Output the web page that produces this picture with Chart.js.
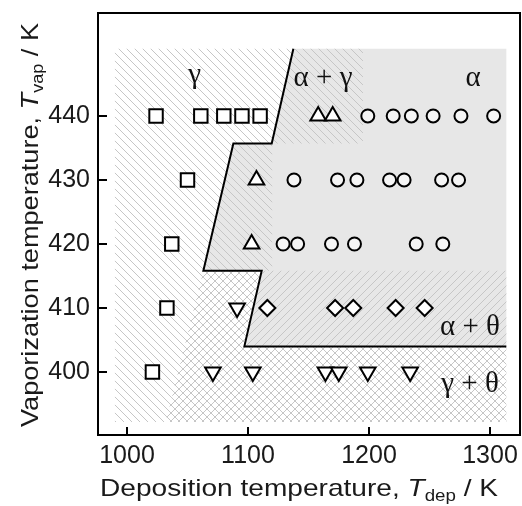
<!DOCTYPE html>
<html>
<head>
<meta charset="utf-8">
<script src="https://cdn.jsdelivr.net/npm/chart.js@4.4.1/dist/chart.umd.min.js"></script>
<style>
  html, body { margin: 0; padding: 0; background: #fff; }
  #wrap { width: 522px; height: 506px; }
</style>
</head>
<body>
<div id="wrap"><canvas id="chart" width="522" height="506"></canvas></div>
<script>
const xTicks = [1000, 1100, 1200, 1300];
const yTicks = [400, 410, 420, 430, 440];

// gamma (squares)
const gammaDep = [1024, 1061, 1080, 1095, 1110, 1050, 1037, 1033, 1021];
const gammaVap = [440, 440, 440, 440, 440, 430, 420, 410, 400];
// alpha + gamma (triangles)
const alphaGammaDep = [1158, 1170, 1107, 1103];
const alphaGammaVap = [440, 440, 430, 420];
// alpha (circles)
const alphaDep = [1199, 1220, 1235, 1253, 1276, 1303,
                  1138, 1174, 1190, 1217, 1229, 1260, 1274,
                  1129, 1141, 1169, 1188, 1239, 1261];
const alphaVap = [440, 440, 440, 440, 440, 440,
                  430, 430, 430, 430, 430, 430, 430,
                  420, 420, 420, 420, 420, 420];
// alpha + theta (diamonds)
const alphaThetaDep = [1116, 1172, 1187, 1222, 1246];
const alphaThetaVap = [410, 410, 410, 410, 410];
// gamma + theta (down triangles)
const gammaThetaDep = [1091, 1071, 1104, 1164, 1175, 1199, 1234];
const gammaThetaVap = [410, 400, 400, 400, 400, 400, 400];

// phase boundary line
const boundaryDep = [1137.5, 1119.6, 1087.9, 1063.1, 1111.3, 1097, 1313.5];
const boundaryVap = [450.5, 435.7, 435.7, 415.8, 415.8, 404, 404];

// shaded areas
const alphaAreaDep = [1137.5, 1313.5, 1313.5, 1097, 1111.3, 1063.1, 1087.9, 1119.6];
const alphaAreaVap = [450.5, 450.5, 404, 404, 415.8, 415.8, 435.7, 435.7];
const gammaHatchDep = [990, 990, 1195, 1195, 1120, 1120, 1111.3, 1097, 1313.5, 1313.5];
const gammaHatchVap = [392.2, 450.5, 450.5, 435.7, 435.7, 415.8, 415.8, 404, 404, 392.2];
const thetaHatchDep = [1032, 1063.1, 1313.5, 1313.5];
const thetaHatchVap = [392.2, 415.8, 415.8, 392.2];

// region labels
const phaseLabels = ['γ', 'α + γ', 'α', 'α + θ', 'γ + θ'];
const labelDep = [1056, 1162, 1286, 1283.5, 1283.5];
const labelVap = [446.4, 445.9, 445.9, 407.0, 398.0];

const SANS = "'Liberation Sans', Arial, sans-serif";
const SERIF = "'Liberation Serif', 'Times New Roman', serif";

const pts = (xs, ys) => xs.map((x, i) => ({ x: x, y: ys[i] }));

function toPx(chart, xs, ys) {
  const sx = chart.scales.x, sy = chart.scales.y;
  return xs.map((v, i) => [sx.getPixelForValue(v), sy.getPixelForValue(ys[i])]);
}

function tracePoly(ctx, p) {
  ctx.beginPath();
  p.forEach(([x, y], i) => i ? ctx.lineTo(x, y) : ctx.moveTo(x, y));
  ctx.closePath();
}

function hatch(ctx, p, dir, W, H) {
  ctx.save();
  tracePoly(ctx, p);
  ctx.clip();
  ctx.strokeStyle = '#c6c6c6';
  ctx.lineWidth = 1;
  ctx.beginPath();
  for (let c = -H; c <= W + H; c += 8) {
    if (dir === '\\') { ctx.moveTo(c, 0); ctx.lineTo(c + H, H); }
    else { ctx.moveTo(c, H); ctx.lineTo(c + H, 0); }
  }
  ctx.stroke();
  ctx.restore();
}

// draws mixed-style title centred on cx, stretched to the given width
function drawTitle(ctx, parts, cx, baseY, width) {
  let total = 0;
  parts.forEach(p => { ctx.font = p.f; p.w = ctx.measureText(p.t).width; total += p.w; });
  const k = width / total;
  ctx.save();
  ctx.translate(cx - width / 2, baseY);
  ctx.scale(k, 1);
  ctx.textBaseline = 'alphabetic';
  ctx.textAlign = 'left';
  let x = 0;
  parts.forEach(p => { ctx.font = p.f; ctx.fillText(p.t, x, p.dy || 0); x += p.w; });
  ctx.restore();
}

const regions = {
  id: 'regions',
  beforeDatasetsDraw(chart) {
    const ctx = chart.ctx, a = chart.chartArea;
    ctx.save();
    ctx.beginPath();
    ctx.rect(a.left, a.top, a.right - a.left, a.bottom - a.top);
    ctx.clip();
    tracePoly(ctx, toPx(chart, alphaAreaDep, alphaAreaVap));
    ctx.fillStyle = '#e7e7e7';
    ctx.fill();
    hatch(ctx, toPx(chart, gammaHatchDep, gammaHatchVap), '\\', chart.width, chart.height);
    hatch(ctx, toPx(chart, thetaHatchDep, thetaHatchVap), '/', chart.width, chart.height);
    ctx.restore();
  },
  afterDatasetsDraw(chart) {
    const ctx = chart.ctx, a = chart.chartArea;
    const sx = chart.scales.x, sy = chart.scales.y;
    ctx.save();
    // region labels
    ctx.fillStyle = '#111';
    ctx.font = '29px ' + SERIF;
    ctx.textAlign = 'center';
    ctx.textBaseline = 'middle';
    phaseLabels.forEach((t, i) => ctx.fillText(t, sx.getPixelForValue(labelDep[i]), sy.getPixelForValue(labelVap[i])));
    // inward ticks
    ctx.strokeStyle = '#000';
    ctx.lineWidth = 2;
    ctx.beginPath();
    xTicks.forEach(v => { const x = Math.round(sx.getPixelForValue(v)); ctx.moveTo(x, a.bottom); ctx.lineTo(x, a.bottom - 8); });
    yTicks.forEach(v => { const y = Math.round(sy.getPixelForValue(v)); ctx.moveTo(a.left, y); ctx.lineTo(a.left + 9, y); });
    ctx.stroke();
    // frame
    ctx.strokeRect(a.left, a.top, a.right - a.left, a.bottom - a.top);
    ctx.restore();
  },
  afterDraw(chart) {
    const ctx = chart.ctx;
    ctx.save();
    ctx.fillStyle = '#1a1a1a';
    const big = '24px ' + SANS, ital = 'italic 24px ' + SANS, sub = '16px ' + SANS;
    drawTitle(ctx, [
      { t: 'Deposition temperature, ', f: big },
      { t: 'T', f: ital },
      { t: 'dep', f: sub, dy: 5 },
      { t: ' / K', f: big }
    ], 299, 496, 398);
    ctx.translate(38, 225);
    ctx.rotate(-Math.PI / 2);
    drawTitle(ctx, [
      { t: 'Vaporization temperature, ', f: big },
      { t: 'T', f: ital },
      { t: 'vap', f: sub, dy: 5 },
      { t: ' / K', f: big }
    ], 0, 0, 404);
    ctx.restore();
  }
};

const marker = (style, r, fill, extra) => Object.assign({
  pointStyle: style,
  pointRadius: r,
  pointBackgroundColor: fill,
  pointBorderColor: '#000',
  pointBorderWidth: 2
}, extra || {});

const noPad = s => { s.paddingTop = 0; s.paddingBottom = 0; s.paddingLeft = 0; s.paddingRight = 0; };

new Chart(document.getElementById('chart'), {
  type: 'scatter',
  data: {
    datasets: [
      Object.assign({ label: 'γ', data: pts(gammaDep, gammaVap) }, marker('rect', 9.5, '#fff')),
      Object.assign({ label: 'α + γ', data: pts(alphaGammaDep, alphaGammaVap) }, marker('triangle', 9, '#fff')),
      Object.assign({ label: 'α', data: pts(alphaDep, alphaVap) }, marker('circle', 6.5, '#f5f5f5')),
      Object.assign({ label: 'α + θ', data: pts(alphaThetaDep, alphaThetaVap) }, marker('rectRot', 8, '#fff')),
      Object.assign({ label: 'γ + θ', data: pts(gammaThetaDep, gammaThetaVap) }, marker('triangle', 9, '#fff', { pointRotation: 180 })),
      {
        label: 'boundary',
        data: pts(boundaryDep, boundaryVap),
        showLine: true,
        pointRadius: 0,
        borderColor: '#000',
        borderWidth: 2,
        fill: false
      }
    ]
  },
  options: {
    responsive: false,
    animation: false,
    events: [],
    layout: { autoPadding: false, padding: { top: 13, right: 2, left: 0, bottom: 0 } },
    plugins: { legend: { display: false }, tooltip: { enabled: false } },
    scales: {
      x: {
        type: 'linear',
        min: 976.03,
        max: 1324.79,
        afterFit: s => { s.height = 71; noPad(s); },
        afterBuildTicks: s => { s.ticks = xTicks.map(v => ({ value: v })); },
        grid: { display: false, drawTicks: false },
        border: { display: false },
        ticks: { padding: 6, color: '#1a1a1a', font: { family: SANS, size: 25 }, maxRotation: 0, callback: v => String(v) }
      },
      y: {
        type: 'linear',
        min: 390.156,
        max: 456.09,
        afterFit: s => { s.width = 98; noPad(s); },
        afterBuildTicks: s => { s.ticks = yTicks.map(v => ({ value: v })); },
        grid: { display: false, drawTicks: false },
        border: { display: false },
        ticks: { padding: 8, color: '#1a1a1a', font: { family: SANS, size: 25 }, callback: v => String(v) }
      }
    }
  },
  plugins: [regions]
});
</script>
</body>
</html>
